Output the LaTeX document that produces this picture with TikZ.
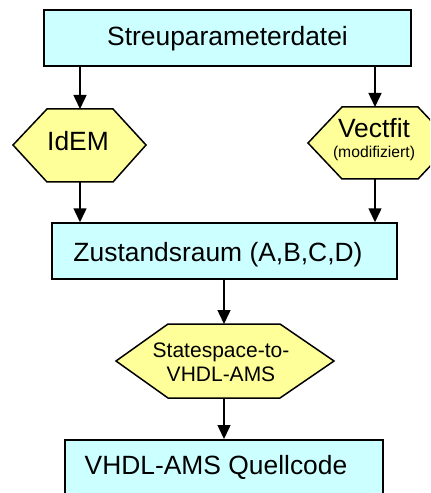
\documentclass[tikz,border=0pt]{standalone}
\usepackage{fontspec}
\setmainfont{Liberation Sans}
\usetikzlibrary{arrows.meta}
\definecolor{boxcyan}{HTML}{CCFFFF}
\definecolor{hexyellow}{HTML}{FFFF99}
\begin{document}
\begin{tikzpicture}[x=1bp,y=-1bp,
  box/.style={draw=black, line width=1.5bp, fill=boxcyan, inner sep=0pt},
  hex/.style={draw=black, line width=1.5bp, fill=hexyellow},
  conn/.style={draw=black, line width=1.5bp, -{Triangle[width=13bp,length=14bp]}},
  bigtxt/.style={font=\fontsize{26.4bp}{30bp}\selectfont, inner sep=0pt, anchor=base},
  midtxt/.style={font=\fontsize{21bp}{24bp}\selectfont, inner sep=0pt, anchor=base},
  smalltxt/.style={font=\fontsize{15.7bp}{18bp}\selectfont, inner sep=0pt, anchor=base},
]
\clip (0,0) rectangle (430,493);
\fill[white] (0,0) rectangle (430,493);

% boxes
\node[box, minimum width=367bp, minimum height=56bp] (top) at (227.5,38) {};
\node[box, minimum width=345bp, minimum height=56bp] (zust) at (224.5,251) {};
\node[box, minimum width=318bp, minimum height=70bp, anchor=north] (vhdl) at (224,439) {};

% hexagons
\draw[hex] (13,145) -- (47,109) -- (113,109) -- (146,145) -- (113,182) -- (47,182) -- cycle;
\coordinate (idemT) at (80,109);
\coordinate (idemB) at (80,182);
\draw[hex] (308,143) -- (342,107) -- (418,107) -- (452,143) -- (418,179) -- (342,179) -- cycle;
\coordinate (vectT) at (375,107);
\coordinate (vectB) at (375,179);
\draw[hex] (116,361) -- (168,324) -- (280,324) -- (334,361) -- (280,398) -- (168,398) -- cycle;
\coordinate (ssT) at (224,324);
\coordinate (ssB) at (224,398);

% texts
\node[bigtxt] (tTop) at (227.5,46) {Streuparameterdatei};
\node[bigtxt] (tIdem) at (78,151) {IdEM};
\node[bigtxt] (tVect) at (374,138) {Vectfit};
\node[smalltxt] (tMod) at (374,158) {(modifiziert)};
\node[bigtxt] (tZust) at (218,261) {Zustandsraum (A,B,C,D)};
\node[midtxt] (tSs1) at (221,357) {Statespace-to-};
\node[midtxt] (tSs2) at (221,381) {VHDL-AMS};
\node[bigtxt] (tVhdl) at (216,474) {VHDL-AMS Quellcode};

% connectors
\draw[conn] (top.south -| idemT) -- (idemT);
\draw[conn] (top.south -| vectT) -- (vectT);
\draw[conn] (idemB) -- (zust.north -| idemB);
\draw[conn] (vectB) -- (zust.north -| vectB);
\draw[conn] (zust.south -| ssT) -- (ssT);
\draw[conn] (ssB) -- (vhdl.north -| ssB);
\end{tikzpicture}
\end{document}
